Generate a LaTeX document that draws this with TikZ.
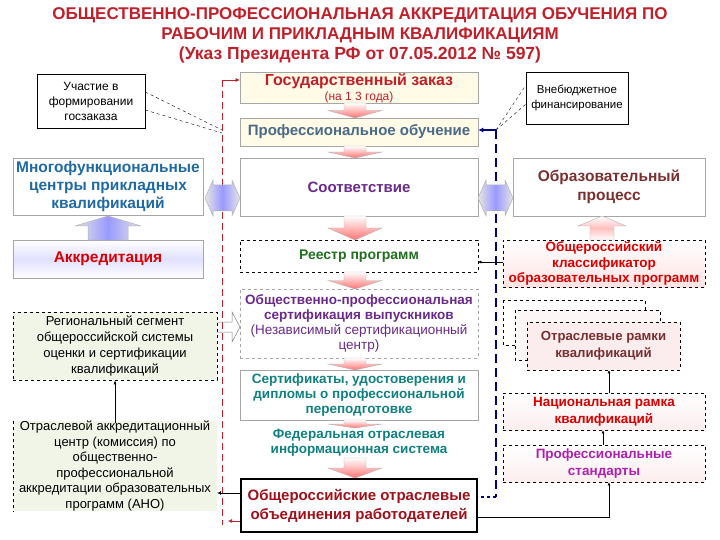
\documentclass[tikz,border=0pt]{standalone}
\usepackage{fontspec}
\setmainfont{Liberation Sans}
\usetikzlibrary{arrows.meta}
\definecolor{ttl}{HTML}{C0202A}
\definecolor{dred}{HTML}{A0101A}
\definecolor{mblue}{HTML}{1F6AA5}
\definecolor{bgrey}{HTML}{4A6A8A}
\definecolor{purp}{HTML}{6A2A8A}
\definecolor{grn}{HTML}{207020}
\definecolor{teal2}{HTML}{108080}
\definecolor{brn}{HTML}{7A3030}
\definecolor{lyel}{HTML}{FFFBE6}
\definecolor{lgrn}{HTML}{F1F5E8}
\definecolor{lpink}{HTML}{FBEDEE}
\definecolor{magt}{HTML}{B020B0}
\newcommand{\fs}[1]{\fontsize{#1}{#1}\selectfont}
\tikzset{
 x=1pt,y=-1pt,
 box/.style={draw=gray!70,line width=0.6pt,minimum width=#1,inner sep=1pt,align=center},
 thin box/.style={draw=black,line width=0.5pt,inner sep=1pt,align=center},
 pinkarr/.style={top color=white,bottom color=red!55,draw=gray!60,line width=0.4pt},
 bluearr/.style={left color=gray!20,right color=gray!20,middle color=blue!40,draw=gray!60,line width=0.5pt},
 conn/.style={-{Latex[length=4pt,width=4pt]},line width=0.6pt}
}
\newcommand{\pdown}[3]{% x, ytop, ybot
 \path[pinkarr] (#1-11,#2)--(#1+11,#2)--(#1+11,{(#2+#3)/2})--(#1+27,{(#2+#3)/2})--(#1,#3)--(#1-27,{(#2+#3)/2})--(#1-11,{(#2+#3)/2})--cycle;}
\begin{document}
\begin{tikzpicture}
\useasboundingbox (0,0) rectangle (720,540);
% title
\node[font=\bfseries\fontsize{17}{20}\selectfont,text=ttl,align=center] (t1) at (360,25) {ОБЩЕСТВЕННО-ПРОФЕССИОНАЛЬНАЯ АККРЕДИТАЦИЯ ОБУЧЕНИЯ ПО\\РАБОЧИМ И ПРИКЛАДНЫМ КВАЛИФИКАЦИЯМ};
\node[font=\bfseries\fontsize{17.5}{20}\selectfont,text=ttl] (t2) at (360,55) {(Указ Президента РФ от 07.05.2012 № 597)};
% central column
\node[box=238pt,minimum height=30pt,fill=lyel,text=ttl,font=\bfseries\fontsize{16}{15}\selectfont] (gz) at (359,88) {Государственный заказ\\{\mdseries\fontsize{12}{13}\selectfont(на 1 3 года)}};
\node[box=238pt,minimum height=28pt,fill=lyel,text=bgrey,font=\bfseries\fs{15}] (po) at (359,132) {Профессиональное обучение};
\node[box=238pt,minimum height=58pt,fill=white,text=purp,font=\bfseries\fs{15}] (sv) at (359,187) {Соответствие};
\node[box=238pt,minimum height=32pt,dashed,draw=black,text=grn,font=\bfseries\fs{14}] (rp) at (359,256) {Реестр программ};
\node[box=238pt,minimum height=69pt,dashed,text=purp,font=\fontsize{13.5}{15}\selectfont] (op) at (359,323.5) {\textbf{Общественно-профессиональная}\\\textbf{сертификация выпускников}\\(Независимый сертификационный\\центр)};
\node[box=238pt,minimum height=50pt,text=teal2,font=\bfseries\fontsize{13.5}{15}\selectfont] (sc) at (359,395) {Сертификаты, удостоверения и\\дипломы о профессиональной\\переподготовке};
\node[box=238pt,minimum height=28pt,draw=none,text=teal2,font=\bfseries\fontsize{13.5}{15}\selectfont] (fs) at (359,443) {Федеральная отраслевая\\информационная система};
\node[draw=black,line width=2pt,minimum width=236pt,minimum height=53pt,align=center,text=dred,font=\bfseries\fontsize{15}{19}\selectfont,fill=white] (oo) at (359,505.5) {Общероссийские отраслевые\\объединения работодателей};
\pdown{355}{103}{118}
\pdown{355}{146}{158}
\pdown{355}{216}{240}
\pdown{355}{272}{289}
\pdown{355}{358}{370}
\pdown{355}{420}{428}
\pdown{355}{458}{478}
% left column
\node[thin box,minimum width=108pt,minimum height=54pt,font=\fontsize{12}{15}\selectfont] (uch) at (91,101) {Участие в\\формировании\\госзаказа};
\node[box=190pt,minimum height=57pt,text=mblue,font=\bfseries\fontsize{15.5}{18}\selectfont] (mfc) at (108,186.5) {Многофункциональные\\центры прикладных\\квалификаций};
\node[box=190pt,minimum height=38pt,top color=white,bottom color=white,middle color=blue!12,text=red!85!black,font=\bfseries\fs{15.5}] (akk) at (108,259) {Аккредитация};
\path[bluearr] (88,240)--(88,226)--(75,226)--(108,216)--(141,226)--(128,226)--(128,240)--cycle;
\node[draw=black,dashed,line width=0.5pt,fill=lgrn,minimum width=204pt,minimum height=68pt,align=center,font=\fontsize{13}{16}\selectfont] (reg) at (115,346) {Региональный сегмент\\общероссийской системы\\оценки и сертификации\\квалификаций};
\node[fill=lgrn,minimum width=204pt,minimum height=90pt,inner sep=0pt,align=center,font=\fontsize{13}{15.5}\selectfont] (otr) at (115,466) {Отраслевой аккредитационный\\центр (комиссия) по\\общественно-\\профессиональной\\аккредитации образовательных\\программ (АНО)};
\draw[dashed,line width=0.5pt] (otr.north west)--(otr.south west);
\draw[conn,-{Latex[length=4pt,width=3pt]}] (otr.north)++(0,2) -- (reg.south);
% red dashed line
\coordinate (r1) at (222,80);
\coordinate (r2) at (222,525);
\draw[ttl,dashed,dash pattern=on 7pt off 4pt,line width=1pt] (r1)--(r2);
\draw[ttl,conn] (r1)--(gz.west|-r1);
\draw[ttl,conn] (oo.west|-0,521)--(228,521);
\draw[conn,line width=0.5pt] (oo.west|-0,493)--(otr.east|-0,493);
\draw[dashed,line width=0.4pt] (uch.east|-0,92)--(222,130);
\draw[dashed,line width=0.4pt] (uch.east|-0,110)--(222,133);
% open arrow reg->op
\draw[gray,line width=0.5pt] (217,322)--(232,322)--(232,312)--(240,327)--(232,342)--(232,332)--(217,332);
% blue dashed line right
\coordinate (b1) at (496,130);
\coordinate (b2) at (496,497);
\draw[blue!50!black,dashed,dash pattern=on 9pt off 5pt,line width=1.3pt] (b1)--(b2);
\draw[blue!50!black,line width=1.2pt,-{Latex[length=5pt,width=5pt]}] (b1)--(po.east|-b1);
\draw[blue!50!black,dashed,line width=1.2pt] (b2)--(oo.east|-b2);
\node[thin box,minimum width=102pt,minimum height=52pt,font=\fontsize{11.5}{15}\selectfont] (vne) at (577,98) {Внебюджетное\\финансирование};
\draw[dashed,line width=0.4pt] (b1)--(526,85);
\draw[dashed,line width=0.4pt] (b1)--(526,104);
% double block arrows
\path[bluearr] (205,198)--(213,180)--(213,185)--(232,185)--(232,180)--(240,198)--(232,216)--(232,211)--(213,211)--(213,216)--cycle;
\path[bluearr] (478,198)--(486,180)--(486,185)--(505,185)--(505,180)--(513,198)--(505,216)--(505,211)--(486,211)--(486,216)--cycle;
% right column
\node[box=192pt,minimum height=58pt,text=brn,font=\bfseries\fontsize{15.5}{19}\selectfont] (obp) at (609,187) {Образовательный\\процесс};
\node[box=202pt,minimum height=47pt,inner sep=0pt,dashed,draw=black,top color=white,bottom color=lpink!60!red!25,text=red!85!black,font=\bfseries\fontsize{13.5}{15.5}\selectfont] (okl) at (604,263.5) {Общероссийский\\классификатор\\образовательных программ};
\path[pinkarr,top color=white,bottom color=white,middle color=red!25] (590,240)--(590,226)--(578,226)--(602,216)--(626,226)--(614,226)--(614,240)--cycle;
\draw[conn,-{Latex[length=3pt,width=3pt]},line width=0.4pt] (okl.west|-0,262)--(rp.east|-0,262);
\draw[dashed,line width=0.5pt,fill=white] (503,300) rectangle (645,345);
\draw[dashed,line width=0.5pt,fill=lpink!50] (515,310) rectangle (660,360);
\node[draw=black,dashed,line width=0.5pt,fill=lpink,minimum width=153pt,minimum height=48pt,align=center,text=brn,font=\bfseries\fontsize{13.2}{17}\selectfont] (ram) at (603.5,346) {Отраслевые рамки\\квалификаций};
\node[box=202pt,minimum height=37pt,dashed,draw=black,top color=white,bottom color=lpink,text=red!85!black,font=\bfseries\fontsize{13.5}{17}\selectfont] (nrk) at (604,411.5) {Национальная рамка\\квалификаций};
\node[box=202pt,minimum height=37pt,dashed,draw=black,top color=white,bottom color=lpink,text=magt,font=\bfseries\fontsize{13.5}{17}\selectfont] (pst) at (604,463.5) {Профессиональные\\стандарты};
\draw[conn,-{Latex[length=3pt,width=3pt]},line width=0.5pt] (nrk.north-|609,0)--(ram.south-|609,0);
\draw[conn,-{Latex[length=3pt,width=3pt]},line width=0.5pt] (pst.north-|603,0)--(nrk.south-|603,0);
\draw[conn,-{Latex[length=3pt,width=3pt]},line width=0.5pt] (oo.east|-0,517)--(609,517)--(pst.south-|609,0);
\end{tikzpicture}
\end{document}
